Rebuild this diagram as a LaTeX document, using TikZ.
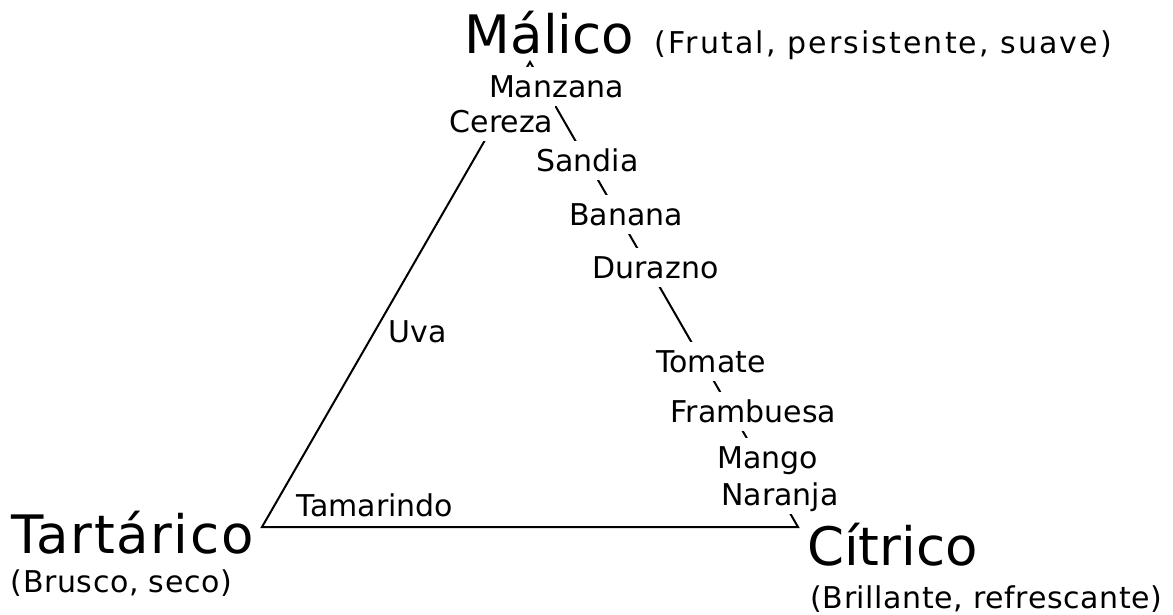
\documentclass[tikz,border=0pt]{standalone}
\usepackage{fontspec}
\setmainfont{DejaVu Sans}
\newcommand{\smallfnt}{\fontsize{30}{36}\selectfont}
\newcommand{\bigfnt}{\fontsize{53}{60}\selectfont}
\begin{document}
\begin{tikzpicture}[x=1pt,y=-1pt,
  fruit/.style={font=\smallfnt, inner xsep=2pt, inner ysep=0pt, text height=30pt, text depth=9pt, fill=white, anchor=base},
  note/.style={font=\smallfnt, inner sep=0pt, anchor=base},
  acid/.style={font=\bigfnt, inner xsep=2pt, inner ysep=0pt, text height=46pt, text depth=7pt, fill=white, anchor=base},
  side/.style={line width=2pt}]
\useasboundingbox (0,0) rectangle (1173,614);
% triangle vertices
\coordinate (Vm) at (530,62);
\coordinate (Vt) at (262,527);
\coordinate (Vc) at (798,527);
\draw[side] (Vt) -- (Vm) -- (Vc) -- cycle;
% acids
\node[acid] (malico) at (549.5,53) {Málico};
\node[note] (malicod) at (883.5,53) {\addfontfeature{LetterSpace=7}(Frutal, persistente, suave)};
\node[acid] (tartarico) at (132.5,553) {\addfontfeature{LetterSpace=3}Tartárico};
\node[note] (tartaricod) at (121.5,592) {\addfontfeature{LetterSpace=2}(Brusco, seco)};
\node[acid] (citrico) at (892.5,565) {Cítrico};
\node[note] (citricod) at (986.5,608) {\addfontfeature{LetterSpace=2}(Brillante, refrescante)};
% fruits
\node[fruit] (manzana) at (556.5,97) {Manzana};
\node[fruit] (cereza) at (501.5,132) {Cereza};
\node[fruit] (sandia) at (587.5,171) {Sandia};
\node[fruit] (banana) at (626,225) {Banana};
\node[fruit] (durazno) at (655.5,278) {Durazno};
\node[fruit] (tomate) at (711,372) {Tomate};
\node[fruit] (frambuesa) at (753.5,422) {Frambuesa};
\node[fruit] (mango) at (767.5,468) {Mango};
\node[fruit] (naranja) at (780,505) {Naranja};
\node[fruit] (uva) at (418,342) {Uva};
\node[fruit] (tamarindo) at (375,516) {Tamarindo};
\end{tikzpicture}
\end{document}
